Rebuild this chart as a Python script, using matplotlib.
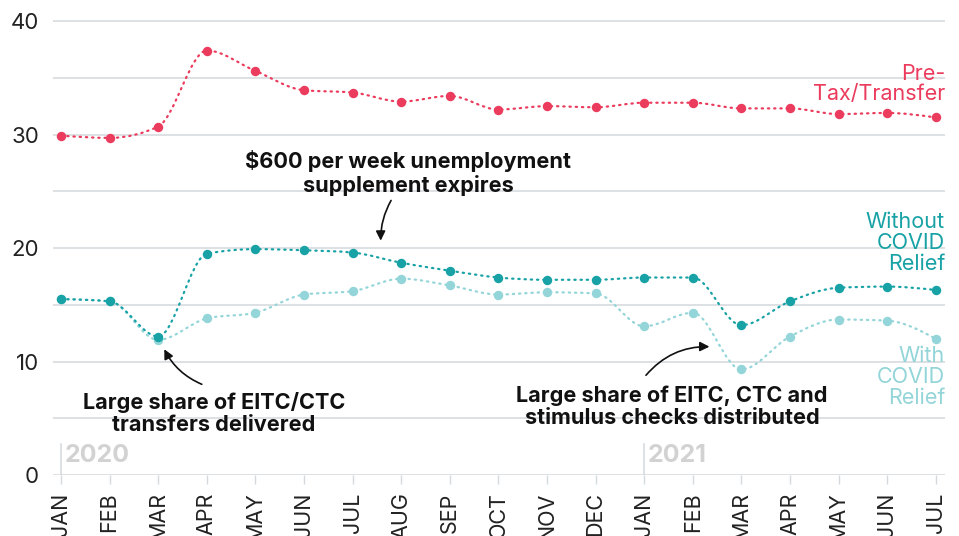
import numpy as np
import matplotlib.pyplot as plt
from matplotlib.path import Path
from matplotlib.patches import PathPatch

plt.rcParams['font.family'] = ['Inter', 'DejaVu Sans']

months = ["JAN", "FEB", "MAR", "APR", "MAY", "JUN", "JUL", "AUG", "SEP", "OCT",
          "NOV", "DEC", "JAN", "FEB", "MAR", "APR", "MAY", "JUN", "JUL"]
pre_tax = [29.9, 29.7, 30.7, 37.4, 35.6, 33.9, 33.7, 32.9, 33.4, 32.2,
           32.5, 32.4, 32.8, 32.8, 32.3, 32.3, 31.8, 31.9, 31.5]
without_relief = [15.5, 15.3, 12.2, 19.5, 19.9, 19.8, 19.6, 18.7, 18.0, 17.4,
                  17.2, 17.2, 17.4, 17.4, 13.2, 15.3, 16.5, 16.6, 16.3]
with_relief = [15.5, 15.3, 11.9, 13.8, 14.3, 15.9, 16.2, 17.3, 16.7, 15.9,
               16.1, 16.0, 13.1, 14.3, 9.3, 12.2, 13.7, 13.6, 12.0]

PINK = "#eb3c5d"
TEAL = "#18a2a6"
LIGHT = "#93d5d8"
GRID = "#d3d9dc"


def monotone_path(xs, ys):
    # cubic bezier path with monotone-x tangents
    xs = np.asarray(xs, float)
    ys = np.asarray(ys, float)
    n = len(xs)
    h = np.diff(xs)
    s = np.diff(ys) / h
    t = np.zeros(n)
    for i in range(1, n - 1):
        p = (s[i - 1] * h[i] + s[i] * h[i - 1]) / (h[i - 1] + h[i])
        t[i] = (np.sign(s[i - 1]) + np.sign(s[i])) * min(abs(s[i - 1]), abs(s[i]), 0.5 * abs(p))
    t[0] = (3 * s[0] - t[1]) / 2
    t[-1] = (3 * s[-1] - t[-2]) / 2
    verts = [(xs[0], ys[0])]
    codes = [Path.MOVETO]
    for i in range(n - 1):
        dx = h[i] / 3
        verts += [(xs[i] + dx, ys[i] + dx * t[i]),
                  (xs[i + 1] - dx, ys[i + 1] - dx * t[i + 1]),
                  (xs[i + 1], ys[i + 1])]
        codes += [Path.CURVE4] * 3
    return Path(verts, codes)


fig = plt.figure(figsize=(9.59, 5.36), dpi=100)
ax = fig.add_axes([53 / 959, 61 / 536, 892 / 959, (475 - 17.6) / 536])
ax.set_xlim(-0.165, 18.19)
ax.set_ylim(0, 40.3)

x = np.arange(len(months))
for vals, col in [(with_relief, LIGHT), (without_relief, TEAL), (pre_tax, PINK)]:
    patch = PathPatch(monotone_path(x, vals), fill=False, edgecolor=col,
                      linewidth=1.6, linestyle=(0, (0.6, 2.2)), capstyle='round',
                      transform=ax.transData, zorder=3)
    ax.add_patch(patch)
    ax.plot(x, vals, 'o', color=col, markersize=6.8, markeredgewidth=0, zorder=4, clip_on=False)

# grid
ax.set_yticks(np.arange(0, 41, 5))
ax.set_yticklabels([str(v) if v % 10 == 0 else "" for v in range(0, 41, 5)])
ax.grid(axis='y', color=GRID, linewidth=1.1)
ax.set_axisbelow(True)
for sp in ax.spines.values():
    sp.set_visible(False)
ax.tick_params(axis='y', length=0, pad=10, labelsize=16, labelcolor="#222222")

ax.set_xticks(x)
ax.set_xticklabels(months, rotation=90, va='top')
ax.tick_params(axis='x', length=6.5, width=1, color=GRID, pad=6, labelsize=15.5, labelcolor="#222222")

# year markers
for xi, yr in [(0, "2020"), (12, "2021")]:
    ax.plot([xi, xi], [0, 2.7], color=GRID, linewidth=1.1, zorder=1)
    ax.text(xi + 0.08, 1.75, yr, fontsize=18, fontweight='bold', color="#d2d2d2",
            ha='left', va='center')

# series labels
lab = dict(fontsize=15.5, ha='right', va='center', linespacing=1.05)
ax.text(18.19, 34.45, "Pre-\nTax/Transfer", color=PINK, **lab)
ax.text(18.19, 20.44, "Without\nCOVID\nRelief", color=TEAL, **lab)
ax.text(18.19, 8.63, "With\nCOVID\nRelief", color=LIGHT, **lab)

# annotations
note = dict(fontsize=15.6, fontweight='bold', color="#111111", ha='center',
            va='center', linespacing=1.15)
ax.text(7.14, 26.6, "$600 per week unemployment\nsupplement expires", **note)
ax.annotate("", xy=(6.58, 20.4), xytext=(6.82, 24.4),
            arrowprops=dict(arrowstyle='-|>', color="#111111", lw=1.2,
                            connectionstyle="arc3,rad=0.15", mutation_scale=14))

ax.text(3.15, 5.4, "Large share of EITC/CTC\ntransfers delivered", **note)
ax.annotate("", xy=(2.1, 11.3), xytext=(2.95, 7.9),
            arrowprops=dict(arrowstyle='-|>', color="#111111", lw=1.2,
                            connectionstyle="arc3,rad=-0.2", mutation_scale=14))

ax.text(12.57, 6.0, "Large share of EITC, CTC and\nstimulus checks distributed", **note)
ax.annotate("", xy=(13.4, 11.3), xytext=(12.0, 8.6),
            arrowprops=dict(arrowstyle='-|>', color="#111111", lw=1.2,
                            connectionstyle="arc3,rad=-0.25", mutation_scale=14))

fig.savefig("out.png", dpi=100)
